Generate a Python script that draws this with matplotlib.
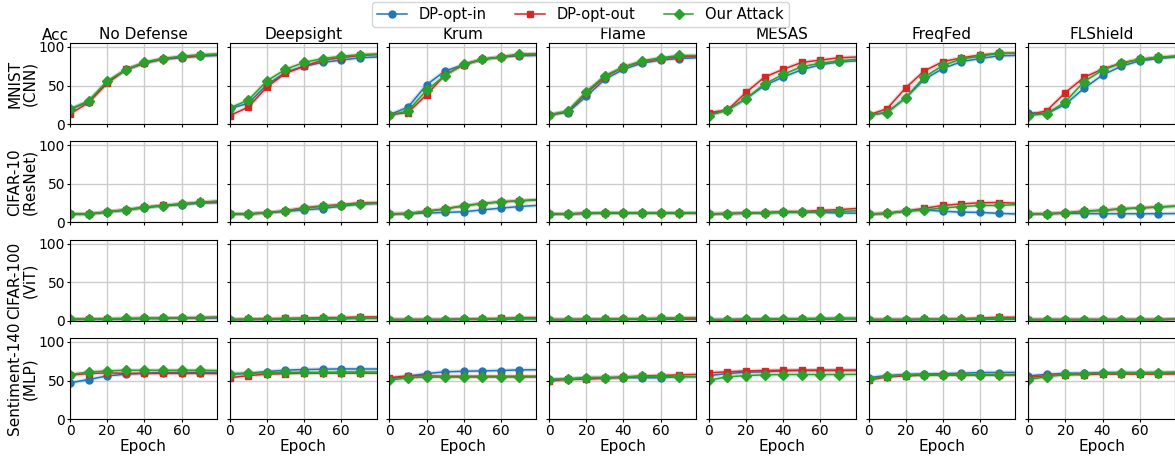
import numpy as np
import matplotlib.pyplot as plt

epochs = [0, 10, 20, 30, 40, 50, 60, 70, 79]
defenses = ['No Defense', 'Deepsight', 'Krum', 'Flame', 'MESAS', 'FreqFed', 'FLShield']
datasets = ['MNIST\n(CNN)', 'CIFAR-10\n(ResNet)', 'CIFAR-100\n(ViT)', 'Sentiment-140\n(MLP)']

# MNIST (CNN), one list per defense
mnist_in = [[19, 29, 54, 70, 79, 84, 86, 88, 89],
            [20, 27, 51, 67, 75, 80, 83, 86, 87],
            [12, 22, 51, 69, 77, 84, 87, 88.5, 89],
            [12, 15, 36, 58, 71, 79, 83, 85, 86],
            [13, 18, 33, 50, 61, 70.5, 77, 80.5, 82],
            [11.7, 15, 34, 58, 72, 81, 85, 88.5, 89],
            [14.8, 13.5, 25.6, 46.4, 63.6, 75, 82, 85, 87]]
mnist_out = [[13, 28, 53, 71, 79, 85, 87, 89, 90],
             [11, 22, 48, 66, 75, 83, 86, 89, 90],
             [12, 15, 38, 64, 77, 84, 87, 90, 91],
             [12, 16, 40, 61, 74, 81, 85, 87, 88],
             [15, 18, 41, 61, 71, 80, 83, 86, 87],
             [11.7, 20, 47, 69, 81, 86, 89.6, 91.8, 92],
             [11.7, 17.4, 40.8, 60.6, 71.4, 79, 84, 86.6, 88]]
mnist_att = [[19.5, 30, 56, 70.5, 80.5, 85, 88, 90, 91],
             [21, 31, 56, 71, 80, 85, 88, 90, 91],
             [11.7, 17, 44, 63, 78, 84, 87, 91, 91],
             [12, 17, 42, 63, 74, 82, 86, 89, 89],
             [11, 18, 33, 52, 64.5, 74.5, 79, 82, 84],
             [11.7, 15, 34, 61, 76, 84.5, 88, 91.8, 92],
             [10.9, 13.5, 29, 55, 70, 79, 84, 86.6, 88]]

# CIFAR-10 (ResNet)
cifar10_in = [[10.7, 10.7, 13.5, 16, 19, 21.5, 23, 25, 25.5],
              [10.7, 11, 12.5, 14.5, 16, 18, 21, 23.5, 24.5],
              [11, 11.5, 12, 13, 13.8, 16.3, 18.5, 20.6, 22],
              [11, 11, 11.5, 12, 12, 12, 12, 12, 12],
              [11, 11.5, 12, 12.5, 13, 13, 13, 12.2, 12],
              [10.9, 11.7, 14.7, 16.2, 14.5, 13.3, 13, 11.7, 11],
              [10.9, 11.3, 12, 11.3, 11.3, 11.3, 11.3, 11.3, 11.5]]
cifar10_out = [[10.7, 10.7, 13.7, 16.3, 19.7, 22, 24, 26, 27],
               [10.7, 11, 12.5, 15, 19, 21.5, 23, 25.5, 25.5],
               [11, 11.5, 14.5, 17.5, 21.6, 24.5, 26.7, 28, 29.5],
               [11, 11, 12, 12, 12, 12, 12, 12, 12],
               [11, 11.5, 12, 12.5, 14.1, 14, 15.5, 16.6, 18],
               [10.9, 11.7, 14.7, 18.3, 22, 24, 25.5, 25.8, 25],
               [10.9, 11.3, 12.2, 14.7, 15.7, 17.6, 18.8, 20, 21]]
cifar10_att = [[10.7, 10.7, 13.7, 16.3, 19.7, 21.9, 24, 26, 27.7],
               [10.7, 11, 12.5, 15, 18.5, 20.7, 22.6, 24.3, 25],
               [11, 11.5, 14.5, 17.5, 21.6, 24.5, 26.7, 28, 29],
               [11, 11, 12, 12.7, 12.5, 12.5, 12.5, 12.5, 12.5],
               [11, 11.5, 12, 12.5, 13, 13.5, 14, 14.2, 15],
               [10.9, 11.7, 14.7, 16.2, 18.8, 20.5, 22, 22, 23],
               [10.9, 11.3, 12.2, 14.7, 15.7, 17.6, 18.8, 20, 21]]

# CIFAR-100 (ViT)
cifar100_in = [[2, 2, 2.5, 2.5, 3, 3, 3.5, 3.5, 3.5],
               [1.5, 1.5, 2, 2, 2, 2.5, 2.5, 3, 3],
               [1.5, 1.5, 1.5, 1.5, 2, 2, 2, 2.5, 2.5],
               [1.5, 1.5, 1.5, 1.5, 2, 2, 2, 2, 2],
               [1.5, 1.5, 2, 2, 2.5, 2.5, 2.5, 3, 3],
               [1.5, 1.5, 1.5, 1.5, 1.5, 2, 2, 2, 2],
               [1.5, 1.5, 1.5, 1.5, 1.5, 1.5, 1.5, 1.5, 2]]
cifar100_out = [[1.5, 2, 2, 2.5, 3, 3, 3.5, 4, 4.5],
                [1.5, 2, 2.5, 3, 3.5, 4, 4, 5, 5],
                [1.5, 1.5, 1.5, 1.5, 2, 2.5, 3, 4, 4],
                [1.5, 1.5, 2, 2, 2.5, 2.5, 3, 3, 3],
                [1, 1, 1, 1.5, 1.5, 2, 2, 2.5, 2.5],
                [1.5, 1.5, 1.5, 2, 2, 2.5, 3.5, 4.5, 4.5],
                [1.5, 1.5, 1.5, 1.5, 1.5, 1.5, 1.5, 1.5, 2]]
cifar100_att = [[2, 2, 2.5, 3, 3, 3.5, 3.5, 4, 4.5],
                [1.5, 2, 2, 2.5, 2.5, 3, 3, 3.5, 3.5],
                [1.5, 1.5, 1.5, 1.5, 2, 2, 2.5, 3, 3],
                [1.5, 1.5, 2, 2, 2.5, 2.5, 3, 4, 4],
                [1.5, 1.5, 2, 2, 2.5, 2.5, 3, 3, 3],
                [1.5, 1.5, 1.5, 2, 2, 2, 2.5, 3, 3],
                [1.5, 1.5, 1.5, 1.5, 1.5, 1.5, 1.5, 1.5, 2]]

# Sentiment-140 (MLP)
sent_in = [[47, 51.3, 56, 58.2, 59.5, 60.4, 60.4, 60.4, 60.5],
           [58, 59.3, 61.7, 63.4, 64.3, 64.7, 65.1, 65, 65],
           [52, 55.6, 59, 61.3, 62, 62.5, 63, 63.8, 64],
           [51.7, 52, 53.8, 53.8, 53.8, 53.5, 53.5, 55, 55],
           [56.4, 59, 60.8, 61.3, 62.5, 63, 63, 63, 63],
           [53.8, 56.4, 57.8, 58.6, 59, 59.5, 60.4, 60.4, 60.5],
           [56, 58, 59.5, 59.5, 60.4, 60.4, 60.4, 60.4, 60]]
sent_out = [[57, 59, 60, 59.3, 59.3, 59.3, 59.3, 59.3, 59],
            [53.6, 56.4, 58.2, 59, 59.5, 59.5, 59.5, 59.5, 59.5],
            [53.8, 56, 56, 55.6, 55.6, 55.6, 55.6, 55.6, 55.6],
            [49.5, 51.7, 51.7, 53, 54.4, 56, 56.5, 57.4, 58],
            [60, 61.3, 62.5, 63, 63.4, 63.4, 63.4, 63.4, 63.4],
            [50.4, 54.8, 56, 57, 57, 57, 57, 57, 57.5],
            [53.8, 56.4, 57.4, 57.8, 58.3, 58.3, 58.3, 58.3, 58.5]]
sent_att = [[57.8, 61, 62.5, 63.4, 63.4, 63.4, 63.4, 63.4, 63],
            [59, 59.5, 60, 60.5, 60.5, 60.5, 61, 61, 61],
            [50.4, 53.5, 54.4, 54.4, 54.4, 54.4, 54.4, 54.4, 54.4],
            [51, 52, 53.8, 53.8, 54.4, 55.6, 55.6, 55, 55],
            [50.4, 54.8, 56.4, 57.4, 57.8, 57.8, 57.8, 57.8, 58],
            [51.7, 55.6, 57.4, 57.8, 57.4, 57.4, 57.4, 57.4, 57],
            [51.3, 54.8, 58, 59, 59.5, 60, 60, 60.4, 61]]

rows = [(mnist_in, mnist_out, mnist_att),
        (cifar10_in, cifar10_out, cifar10_att),
        (cifar100_in, cifar100_out, cifar100_att),
        (sent_in, sent_out, sent_att)]

labels = ['DP-opt-in', 'DP-opt-out', 'Our Attack']
colors = ['tab:blue', 'tab:red', 'tab:green']
markers = ['o', 's', 'D']

fig, axes = plt.subplots(4, 7, figsize=(11.75, 4.59), dpi=100, sharex=True, sharey=True)
plt.subplots_adjust(left=0.0596, right=1.0, top=0.906, bottom=0.087, wspace=0.088, hspace=0.215)

for i, series in enumerate(rows):
    for j in range(7):
        ax = axes[i, j]
        for k in range(3):
            # soft halo under each line
            ax.plot(epochs, series[k][j], color=colors[k], linewidth=3, alpha=0.18)
            ax.plot(epochs, series[k][j], color=colors[k], marker=markers[k], markersize=5,
                    linewidth=1.1, markevery=list(range(8)), label=labels[k])
        ax.grid(True, color='#cccccc', linewidth=1.0)
        ax.set_xlim(0, 79)
        ax.set_ylim(0, 105)
        ax.set_xticks([0, 20, 40, 60])
        ax.set_yticks([0, 50, 100])
        ax.tick_params(labelsize=10, length=2.5, pad=1)
        if i == 0:
            ax.set_title(defenses[j], fontsize=11, pad=3)
        if i == 3:
            ax.set_xlabel('Epoch', fontsize=11, labelpad=1)
        if j == 0:
            ax.set_ylabel(datasets[i], fontsize=11, labelpad=1, linespacing=1.0)

axes[0, 0].text(-0.01, 1.0, 'Acc', transform=axes[0, 0].transAxes, ha='right', va='bottom', fontsize=11)

handles, labs = axes[0, 0].get_legend_handles_labels()
fig.legend(handles, labs, loc='upper center', bbox_to_anchor=(0.494, 1.012), ncol=3, fontsize=10.5,
           handlelength=2.0, columnspacing=2.0, borderpad=0.35)

plt.savefig('out.png')
plt.close()
